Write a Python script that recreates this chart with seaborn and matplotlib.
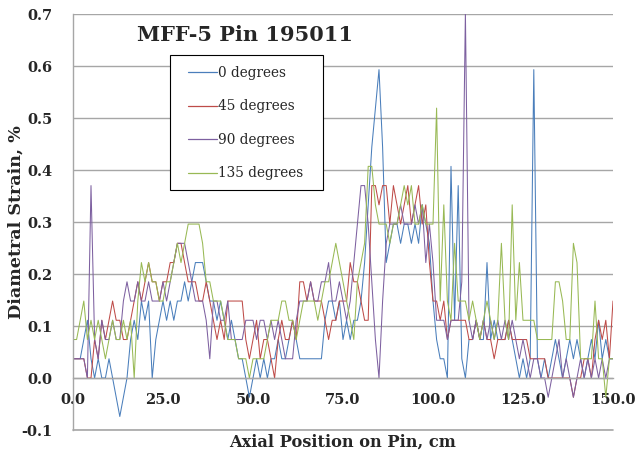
import numpy as np
import pandas as pd
import matplotlib
matplotlib.use("Agg")
import matplotlib.pyplot as plt
from matplotlib.ticker import FormatStrFormatter
from matplotlib.patches import Rectangle
import seaborn as sns

# ---------------- data (1 cm spacing) ----------------
axial_cm = list(range(0, 151))

deg0 = [
    .037, .037, .037, .074, .111, .037, 0, .037, 0, 0,
    .037, 0, -.037, -.074, -.037, 0, .074, .111, .074, .148,
    .111, .148, 0, .074, .111, .148, .111, .148, .111, .148,
    .148, .185, .148, .185, .222, .222, .222, .185, .148, .148,
    .111, .148, .111, .074, .111, .074, .037, .037, 0, -.037,
    0, .037, 0, .037, 0, .037, .037, .074, .037, .037,
    .074, .111, .074, .037, .037, .037, .037, .037, .037, .037,
    .111, .148, .148, .111, .148, .074, .111, .074, .111, .111,
    .148, .222, .333, .444, .519, .593, .444, .222, .259, .296,
    .296, .259, .296, .296, .259, .296, .259, .333, .296, .259,
    .148, .074, .037, .037, 0, .407, .111, .370, .037, 0,
    .074, .074, .111, .074, .074, .222, .074, .111, .074, .074,
    .074, .111, .074, .037, 0, .037, 0, .037, .593, .037,
    0, .037, 0, .037, .074, .037, 0, .037, .074, .037,
    .074, .037, 0, .037, .074, .037, .111, .037, .074, .037, .037,
]

deg45 = [
    .037, .037, .037, .037, 0, 0, .074, .037, .111, .074,
    .111, .148, .111, .111, .074, .074, .111, .148, .185, .148,
    .185, .222, .185, .185, .148, .185, .185, .222, .222, .259,
    .259, .222, .185, .185, .185, .148, .148, .185, .148, .111,
    .074, .111, .074, .148, .148, .148, .148, .148, .074, .037,
    .074, .111, .037, .074, .074, .037, 0, .074, .111, .074,
    .074, .111, .074, .185, .185, .148, .185, .148, .148, .148,
    .111, .074, .111, .111, .148, .148, .148, .222, .185, .185,
    .148, .111, .111, .370, .370, .333, .370, .370, .296, .370,
    .333, .296, .333, .370, .296, .333, .370, .296, .333, .222,
    .148, .148, .111, .148, .074, .111, .111, .111, .111, .111,
    .074, .074, .111, .074, .111, .074, .074, .037, .074, .074,
    .074, .111, .074, .074, .074, .074, .074, .037, .037, .037,
    .037, .037, 0, 0, 0, 0, 0, 0, 0, -.037,
    0, 0, .037, .037, 0, .074, .111, .074, .111, .037, .148,
]

deg90 = [
    .037, .037, .037, .037, 0, .370, .074, .037, .111, .074,
    .074, .111, .074, .074, .148, .185, .148, .148, .185, .148,
    .148, .185, .148, .148, .148, .185, .148, .185, .222, .259,
    .259, .259, .222, .185, .148, .148, .148, .111, .037, .148,
    .148, .111, .111, .148, .074, .074, .074, .074, .111, .111,
    .111, .074, .111, .111, .074, .111, .074, .111, .074, .037,
    .037, .037, .111, .148, .148, .148, .185, .148, .148, .185,
    .185, .222, .148, .148, .185, .148, .111, .148, .222, .296,
    .370, .370, .296, .185, .074, 0, .148, .259, .296, .296,
    .296, .333, .296, .296, .296, .333, .296, .333, .222, .296,
    .222, .111, .111, .111, .074, .111, .111, .111, .185, .703,
    .111, .074, .111, .074, .111, .074, .111, .074, .111, .074,
    .111, .074, .111, .074, .037, .074, .037, 0, .037, .037,
    0, 0, -.037, 0, .037, .074, 0, .037, 0, -.037,
    0, .037, 0, .037, 0, .037, 0, .037, 0, .037, .037,
]

deg135 = [
    .074, .074, .111, .148, .074, .111, .074, .111, .074, .037,
    .074, .111, .074, .074, .111, .074, .111, 0, .148, .222,
    .185, .222, .185, .185, .148, .148, .185, .185, .222, .259,
    .222, .259, .296, .296, .296, .296, .259, .185, .185, .148,
    .148, .148, .111, .074, .074, .074, .037, .037, .037, 0,
    .037, .037, .037, .037, .074, .111, .111, .111, .148, .148,
    .111, .111, .074, .111, .148, .148, .148, .148, .111, .148,
    .185, .185, .222, .259, .222, .185, .148, .111, .074, .185,
    .222, .259, .407, .407, .333, .296, .296, .296, .259, .296,
    .296, .333, .370, .333, .370, .296, .296, .333, .296, .296,
    .296, .519, .148, .333, .148, .111, .259, .148, .148, .148,
    .111, .148, .111, .074, .111, .148, .111, .074, .111, .259,
    .111, .074, .333, .111, .222, .111, .111, .111, .111, .074,
    .074, .074, .074, .074, .185, .185, .148, .074, .074, .259,
    .222, .037, .037, .037, .037, .148, .037, .037, -.037, .037, .037,
]

series_names = ["0 degrees", "45 degrees", "90 degrees", "135 degrees"]
series_values = [deg0, deg45, deg90, deg135]
series_colors = ["#4a7ebb", "#be4b48", "#7d60a0", "#98b954"]

x_ticks = [0, 25, 50, 75, 100, 125, 150]
y_ticks = [-0.1, 0, 0.1, 0.2, 0.3, 0.4, 0.5, 0.6, 0.7]

df = pd.concat(
    [pd.DataFrame({"axial": axial_cm, "strain": v, "series": n})
     for n, v in zip(series_names, series_values)],
    ignore_index=True,
)

# ---------------- figure ----------------
sns.set_theme(style="white")
plt.rcParams["font.family"] = ["DejaVu Serif", "DejaVu Sans"]

W, H = 636, 457
fig = plt.figure(figsize=(W / 100, H / 100), dpi=100)
ax = fig.add_axes([73 / W, 1 - 430 / H, 540 / W, 416 / H])

sns.lineplot(data=df, x="axial", y="strain", hue="series",
             hue_order=series_names, palette=series_colors,
             estimator=None, linewidth=0.75, ax=ax)

ax.set_xlim(0, 150)
ax.set_ylim(-0.1, 0.7)
ax.set_xticks(x_ticks)
ax.set_yticks(y_ticks)
ax.xaxis.set_major_formatter(FormatStrFormatter("%.1f"))
ax.yaxis.set_major_formatter(FormatStrFormatter("%.1f"))

grid_col = "#a6a6a6"
ax.set_axisbelow(True)
ax.yaxis.grid(True, color=grid_col, linewidth=1.0)
ax.xaxis.grid(False)
ax.axhline(-0.1, color=grid_col, linewidth=1.2, clip_on=False, zorder=0.5)
for s in ["top", "right"]:
    ax.spines[s].set_visible(False)
ax.spines["left"].set_color(grid_col)
ax.spines["bottom"].set_color(grid_col)
ax.spines["bottom"].set_position(("data", 0))
ax.spines["left"].set_linewidth(1.0)
ax.spines["bottom"].set_linewidth(1.0)

ax.tick_params(axis="x", direction="out", length=4, color=grid_col,
               pad=7, labelsize=10.5)
ax.tick_params(axis="y", direction="out", length=5, color=grid_col,
               pad=10, labelsize=10.5)
for lab in ax.get_xticklabels() + ax.get_yticklabels():
    lab.set_fontweight("bold")

ax.set_xlabel("")
ax.set_ylabel("")
fig.text(343 / W, 1 - 442 / H, "Axial Position on Pin, cm",
         ha="center", va="center", fontsize=11.7, fontweight="bold")
fig.text(16 / W, 1 - 222 / H, "Diametral Strain, %", rotation=90,
         ha="center", va="center", fontsize=12.6, fontweight="bold")

ax.text((245 - 73) / 540, 1 - (35 - 14) / 416, "MFF-5 Pin 195011",
        transform=ax.transAxes, ha="center", va="center",
        fontsize=15, fontweight="bold")

# legend: frame drawn as a box, entries placed inside it
x0 = (170 - 73) / 540
x1 = (323 - 73) / 540
yt = 1 - (55 - 14) / 416
yb = 1 - (190 - 14) / 416
ax.add_patch(Rectangle((x0, yb), x1 - x0, yt - yb, transform=ax.transAxes,
                       facecolor="white", edgecolor="black", linewidth=0.8,
                       zorder=4))

handles, labels = ax.get_legend_handles_labels()
leg = ax.legend(handles, labels, loc="upper left",
                bbox_to_anchor=((188 - 73) / 540, 1 - (66 - 14) / 416),
                frameon=False, fontsize=9.8, labelspacing=1.43,
                handlelength=2.1, handletextpad=0.1, borderpad=0,
                borderaxespad=0)
leg.set_zorder(5)
for line in leg.get_lines():
    line.set_linewidth(0.9)

fig.savefig("out.png", dpi=100)
